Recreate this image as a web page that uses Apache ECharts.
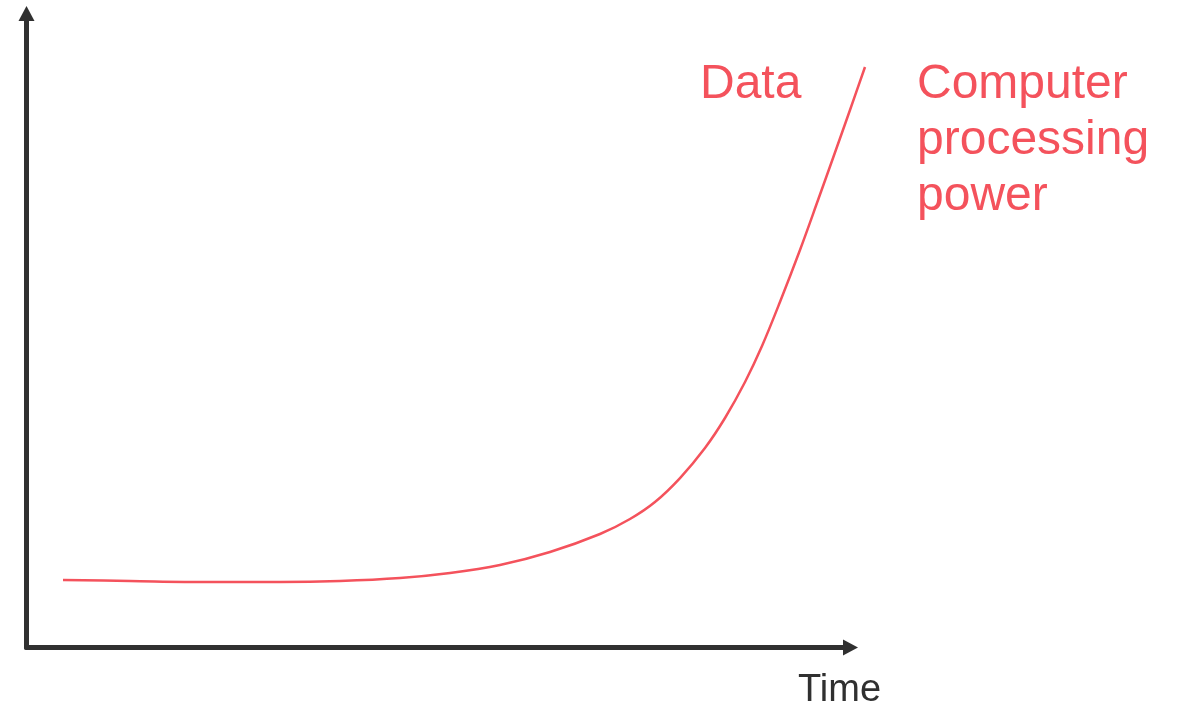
<!DOCTYPE html>
<html>
<head>
<meta charset="utf-8">
<style>
  html, body { margin: 0; padding: 0; background: #ffffff; }
  #chart { width: 1185px; height: 705px; }
</style>
<script src="https://cdn.jsdelivr.net/npm/echarts@6/dist/echarts.min.js"></script>
</head>
<body>
<div id="chart"></div>
<script>
// Time on a 0–100 scale (the curve runs a little past the arrow), growth on a 0–100 scale
const timePoints = [4.43, 12.56, 21.91, 30.76, 38.05, 45.33, 51.40, 57.46, 63.53, 69.60, 73.24, 76.27,
  79.31, 82.34, 84.77, 87.20, 89.26, 91.44, 93.87, 96.06, 97.88, 99.94, 101.76];
const growthValues = [10.65, 10.49, 10.33, 10.33, 10.49, 10.96, 11.75, 13.01, 15.06, 17.90, 20.27, 22.95,
  26.73, 31.47, 36.20, 41.88, 47.56, 54.50, 62.70, 70.58, 77.21, 84.78, 91.56];

const xAxisName = 'Time';
const leftLabel = 'Data';
const rightLabel = 'Computer\nprocessing\npower';

const RED = '#f4525c';
const INK = '#303030';
const FONT = 'Liberation Sans, Arial, sans-serif';

const chart = echarts.init(document.getElementById('chart'), null, { renderer: 'canvas' });

const hiddenParts = {
  axisTick: { show: false },
  axisLabel: { show: false },
  splitLine: { show: false }
};

const arrowLine = {
  show: true,
  onZero: false,
  symbol: ['none', 'triangle'],
  symbolSize: [16, 15],
  lineStyle: { color: INK, width: 5 }
};

chart.setOption({
  animation: false,
  backgroundColor: '#ffffff',
  grid: [
    // grid 0 carries the two arrowed axes
    { left: 26.5, right: 334.5, top: 13.5, bottom: 57.5, outerBoundsMode: 'none', containLabel: false },
    // grid 1 has the same scale, widened so the curve may run past the x arrow
    { left: 26.5, right: 252.1, top: 13.5, bottom: 57.5, outerBoundsMode: 'none', containLabel: false }
  ],
  title: [
    {
      text: leftLabel,
      left: 695, top: 52,
      textStyle: { color: RED, fontSize: 48, lineHeight: 56, fontWeight: 'normal', fontFamily: FONT }
    },
    {
      text: rightLabel,
      left: 912, top: 52,
      textStyle: { color: RED, fontSize: 48, lineHeight: 56, fontWeight: 'normal', fontFamily: FONT }
    }
  ],
  xAxis: [
    Object.assign({
      type: 'value', gridIndex: 0, min: 0, max: 100,
      axisLine: arrowLine,
      name: xAxisName,
      nameLocation: 'end',
      nameGap: -11,
      nameTextStyle: {
        color: INK, fontSize: 38, fontFamily: FONT,
        align: 'center', verticalAlign: 'top', padding: [24, 0, 0, 0]
      }
    }, hiddenParts),
    Object.assign({
      type: 'value', gridIndex: 1, min: 0, max: 110,
      axisLine: { show: false }
    }, hiddenParts)
  ],
  yAxis: [
    Object.assign({
      type: 'value', gridIndex: 0, min: 0, max: 100,
      axisLine: arrowLine
    }, hiddenParts),
    Object.assign({
      type: 'value', gridIndex: 1, min: 0, max: 100,
      axisLine: { show: false }
    }, hiddenParts)
  ],
  series: [{
    type: 'line',
    xAxisIndex: 1,
    yAxisIndex: 1,
    data: timePoints.map((t, i) => [t, growthValues[i]]),
    smooth: 0.35,
    showSymbol: false,
    lineStyle: { color: RED, width: 2.5 }
  }]
});
</script>
</body>
</html>
